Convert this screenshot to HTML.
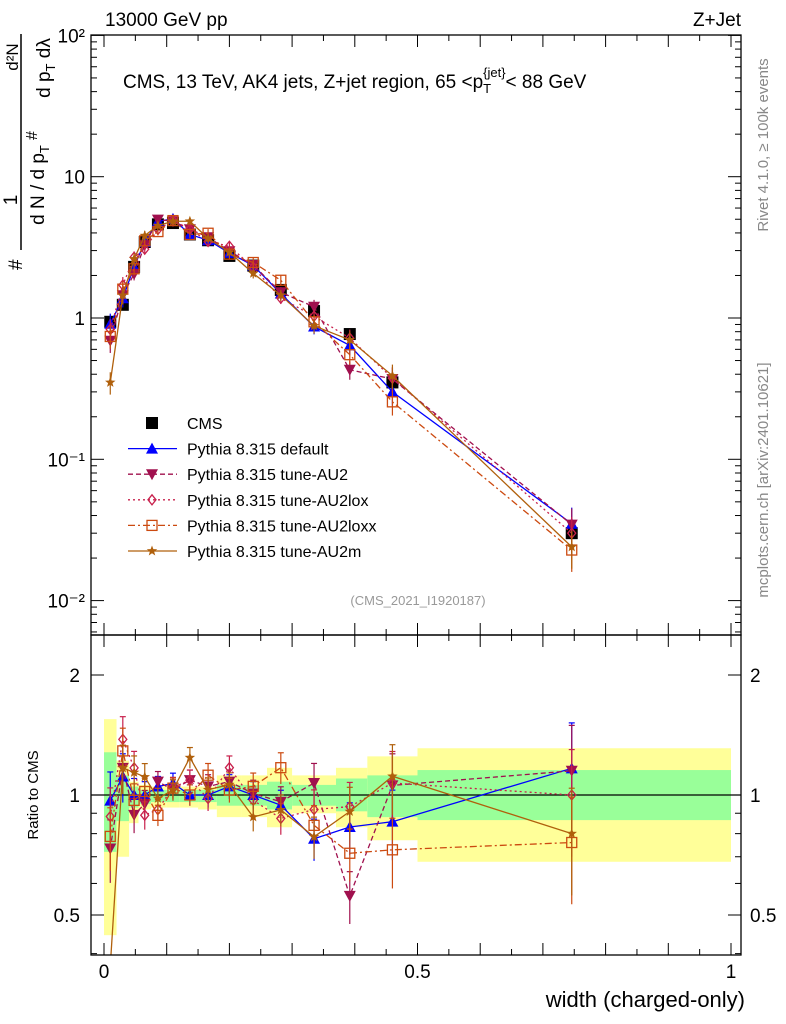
<!DOCTYPE html>
<html><head><meta charset="utf-8"><style>
html,body{margin:0;padding:0;background:#fff;}
svg{display:block;font-family:"Liberation Sans",sans-serif;}
</style></head><body>
<svg id="c" width="786" height="1024" viewBox="0 0 786 1024">
<g id="bands"></g>
<g id="grid"></g>
<g id="series"></g>
<rect x="91" y="35" width="650" height="600" fill="none" stroke="#000" stroke-width="1.3"/>
<rect x="91" y="635" width="650" height="320" fill="none" stroke="#000" stroke-width="1.3"/>
<text x="105" y="26" font-size="19">13000 GeV pp</text>
<text x="741" y="26" font-size="19" text-anchor="end">Z+Jet</text>
<text x="123" y="88" font-size="19">CMS, 13 TeV, AK4 jets, Z+jet region, 65 &lt;p<tspan font-size="13" dy="5">T</tspan><tspan font-size="13" dy="-16" dx="-8">{jet}</tspan><tspan dy="11">&lt; 88 GeV</tspan></text>
<text x="418" y="605" font-size="13" fill="#999" text-anchor="middle">(CMS_2021_I1920187)</text>
<text transform="translate(768,145) rotate(-90)" font-size="15" fill="#888" text-anchor="middle">Rivet 4.1.0, ≥ 100k events</text>
<text transform="translate(768,480) rotate(-90)" font-size="15" fill="#888" text-anchor="middle">mcplots.cern.ch [arXiv:2401.10621]</text>
<g font-size="19">
<line x1="21" y1="34" x2="21" y2="250" stroke="#000" stroke-width="1.5"/>
<text transform="translate(22,270) rotate(-90)">#</text>
<text transform="translate(17,200) rotate(-90)" text-anchor="middle">1</text>
<text transform="translate(18,57) rotate(-90)" font-size="17" text-anchor="middle">d²N</text>
<text transform="translate(44,185) rotate(-90)" text-anchor="middle">d N / d p<tspan font-size="13" dy="5">T</tspan></text>
<text transform="translate(37,140) rotate(-90)" font-size="16">#</text>
<text transform="translate(50,68) rotate(-90)" text-anchor="middle">d p<tspan font-size="13" dy="5">T</tspan><tspan dy="-5"> dλ</tspan></text>
</g>
<text transform="translate(38,795) rotate(-90)" font-size="15" text-anchor="middle">Ratio to CMS</text>
<text x="745" y="1007" font-size="22" text-anchor="end">width (charged-only)</text>
<g id="legend"></g>
</svg>
<script>
const binEdges=[0,0.02,0.04,0.055,0.075,0.1,0.12,0.15,0.18,0.22,0.26,0.3,0.37,0.42,0.5,1.0];
const binCenters=[0.01,0.03,0.048,0.065,0.086,0.11,0.137,0.166,0.2,0.238,0.282,0.335,0.392,0.46,0.746];
const cmsVals=[0.94,1.24,2.3,3.45,4.6,4.7,3.9,3.55,2.75,2.35,1.58,1.12,0.77,0.35,0.030];
const defaultVals=[0.91,1.38,2.3,3.45,4.83,5.03,3.9,3.55,2.89,2.35,1.49,0.87,0.64,0.30,0.035];
const au2Vals=[0.69,1.45,2.05,3.28,4.97,4.84,4.25,3.73,2.97,2.37,1.52,1.20,0.43,0.37,0.0345];
const au2loxVals=[0.83,1.71,2.69,3.07,4.23,4.91,4.25,3.48,3.22,2.28,1.38,1.03,0.72,0.375,0.030];
const au2loxxVals=[0.74,1.60,2.23,3.52,4.09,4.89,3.9,3.98,2.83,2.47,1.85,0.94,0.55,0.255,0.0228];
const au2mVals=[0.35,1.45,2.62,3.83,4.51,4.84,4.84,3.66,2.92,2.07,1.45,0.88,0.70,0.39,0.024];
const relErr=[0.18,0.14,0.1,0.08,0.06,0.06,0.06,0.07,0.07,0.08,0.09,0.12,0.15,0.2,0.3];
const yellowUp=[1.55,1.22,1.08,1.06,1.05,1.05,1.05,1.05,1.12,1.12,1.17,1.12,1.17,1.25,1.31];
const yellowDn=[0.445,0.70,0.85,0.92,0.93,0.93,0.93,0.92,0.88,0.88,0.83,0.90,0.83,0.77,0.68];
const greenUp=[1.28,1.12,1.05,1.03,1.03,1.03,1.03,1.03,1.06,1.06,1.08,1.06,1.10,1.12,1.155];
const greenDn=[0.72,0.86,0.93,0.95,0.96,0.96,0.96,0.96,0.94,0.94,0.92,0.94,0.91,0.88,0.865];
const mainTickLabels=["10⁻²","10⁻¹","1","10","10²"];
const ratioTickLabels=["0.5","1","2"];
const xTickLabels=["0","0.5","1"];

const NS="http://www.w3.org/2000/svg";
const X=v=>104+v*627;
const Y=v=>318-Math.log10(v)*141.3;
const R=v=>795-Math.log2(v)*120;
function mk(tag,attrs,parent){const e=document.createElementNS(NS,tag);for(const k in attrs)e.setAttribute(k,attrs[k]);parent.appendChild(e);return e;}
const bands=document.getElementById('bands'),grid=document.getElementById('grid'),ser=document.getElementById('series'),leg=document.getElementById('legend');

for(let i=0;i<binCenters.length;i++){
 const x0=X(binEdges[i]),x1=X(binEdges[i+1]);
 let r=mk('rect',{x:x0,y:R(yellowUp[i]),width:x1-x0,height:R(yellowDn[i])-R(yellowUp[i]),fill:'#ffff99'},bands);
 
 
 r=mk('rect',{x:x0,y:R(greenUp[i]),width:x1-x0,height:R(greenDn[i])-R(greenUp[i]),fill:'#99ff99'},bands);
 
 
}
mk('line',{x1:91,x2:741,y1:R(1),y2:R(1),stroke:'#000','stroke-width':1.2},bands);

function tk(x1,y1,x2,y2){mk('line',{x1,y1,x2,y2,stroke:'#000','stroke-width':1},grid);}
for(let d=-3;d<=2;d++){for(let m=1;m<10;m++){const v=m*Math.pow(10,d);const y=Y(v);if(y<35||y>635)continue;const L=m==1?13:6;tk(91,y,91+L,y);tk(741,y,741-L,y);}}
mainTickLabels.forEach((t,i)=>{const y=Y(Math.pow(10,i-2));const e=mk('text',{x:85,y:y+7,'font-size':19,'text-anchor':'end'},grid);e.textContent=t;
});
[0.4,0.5,0.6,0.7,0.8,0.9,1,2].forEach(v=>{const y=R(v);if(y<635||y>955)return;const L=(v==0.5||v==1||v==2)?13:6;tk(91,y,91+L,y);tk(741,y,741-L,y);});
ratioTickLabels.forEach(t=>{const y=R(parseFloat(t));let e=mk('text',{x:80,y:y+7,'font-size':19,'text-anchor':'end'},grid);e.textContent=t;

e=mk('text',{x:750,y:y+7,'font-size':19},grid);e.textContent=t;
});
for(let k=0;k<=21;k++){const v=k*0.05;const x=X(v);if(x>741)continue;const L=k%2==0?12:6;tk(x,35,x,35+L);tk(x,635,x,635-L);tk(x,635,x,635+L);tk(x,955,x,955-L);}
xTickLabels.forEach(t=>{const e=mk('text',{x:X(parseFloat(t)),y:978,'font-size':19,'text-anchor':'middle'},grid);e.textContent=t;
});

function marker(type,x,y,col,g){
 if(type=='sq')return mk('rect',{x:x-6,y:y-6,width:12,height:12,fill:'#000'},g);
 if(type=='up')return mk('polygon',{points:`${x},${y-6} ${x-6},${y+5} ${x+6},${y+5}`,fill:col},g);
 if(type=='dn')return mk('polygon',{points:`${x},${y+6} ${x-6},${y-5} ${x+6},${y-5}`,fill:col},g);
 if(type=='dia')return mk('polygon',{points:`${x},${y-5} ${x-4},${y} ${x},${y+5} ${x+4},${y}`,fill:'none',stroke:col,'stroke-width':1.3},g);
 if(type=='osq')return mk('rect',{x:x-5,y:y-5,width:10,height:10,fill:'none',stroke:col,'stroke-width':1.3},g);
 if(type=='star'){let p=[];for(let i=0;i<10;i++){const r=i%2?2.3:5.5,a=-Math.PI/2+i*Math.PI/5;p.push((x+r*Math.cos(a))+','+(y+r*Math.sin(a)));}return mk('polygon',{points:p.join(' '),fill:col},g);}
}
const series=[
 {name:'CMS',vals:cmsVals,col:'#000',mk:'sq',dash:null},
 {name:'Pythia 8.315 default',vals:defaultVals,col:'#0000ff',mk:'up',dash:''},
 {name:'Pythia 8.315 tune-AU2',vals:au2Vals,col:'#a0104e',mk:'dn',dash:'5,3'},
 {name:'Pythia 8.315 tune-AU2lox',vals:au2loxVals,col:'#c8204c',mk:'dia',dash:'2,3'},
 {name:'Pythia 8.315 tune-AU2loxx',vals:au2loxxVals,col:'#cc4a10',mk:'osq',dash:'7,3,2,3'},
 {name:'Pythia 8.315 tune-AU2m',vals:au2mVals,col:'#b0600c',mk:'star',dash:''}
];
series.forEach((s,si)=>{
 const g=mk('g',{},ser);
 
 
 const clipMain=mk('g',{},g),clipRat=mk('g',{},g);
 if(s.dash!==null){
  const pm=s.vals.map((v,i)=>X(binCenters[i])+','+Y(v)).join(' ');
  mk('polyline',{points:pm,fill:'none',stroke:s.col,'stroke-width':1.3,'stroke-dasharray':s.dash},clipMain);
  const pr=s.vals.map((v,i)=>X(binCenters[i])+','+Math.min(1000,R(v/cmsVals[i]))).join(' ');
  mk('polyline',{points:pr,fill:'none',stroke:s.col,'stroke-width':1.3,'stroke-dasharray':s.dash,'clip-path':'url(#rc)'},clipRat);
 }
 s.vals.forEach((v,i)=>{
  const x=X(binCenters[i]);
  const e=relErr[i]*(si==0?0.6:1);
  const y=Y(v),y1=Y(v*(1+e)),y2=Y(v*(1-e));
  mk('line',{x1:x,x2:x,y1:y1,y2:y2,stroke:s.col,'stroke-width':1.2},clipMain);
  const p=marker(s.mk,x,y,s.col,clipMain);
  
  
  if(si>0){
   const r=v/cmsVals[i],ry=R(r);
   if(ry<955){
    mk('line',{x1:x,x2:x,y1:R(r*(1+e)),y2:Math.min(955,R(r*(1-e))),stroke:s.col,'stroke-width':1.2},clipRat);
    mk('line',{x1:x-3,x2:x+3,y1:R(r*(1+e)),y2:R(r*(1+e)),stroke:s.col,'stroke-width':1.2},clipRat);
    const q=marker(s.mk,x,ry,s.col,clipRat);
    
    
   }
  }
 });
 const ly=423+si*25.6;
 const lg=mk('g',{},leg);
 
 
 if(s.dash!==null)mk('line',{x1:128,x2:177,y1:ly,y2:ly,stroke:s.col,'stroke-width':1.3,'stroke-dasharray':s.dash},lg);
 marker(s.mk,152,ly,s.col,lg);
 const t=mk('text',{x:187,y:ly+6,'font-size':16},lg);t.textContent=s.name;
});
const defs=mk('defs',{},document.getElementById('c'));
const cp=mk('clipPath',{id:'rc'},defs);mk('rect',{x:91,y:635,width:650,height:320},cp);
</script>
</body></html>
